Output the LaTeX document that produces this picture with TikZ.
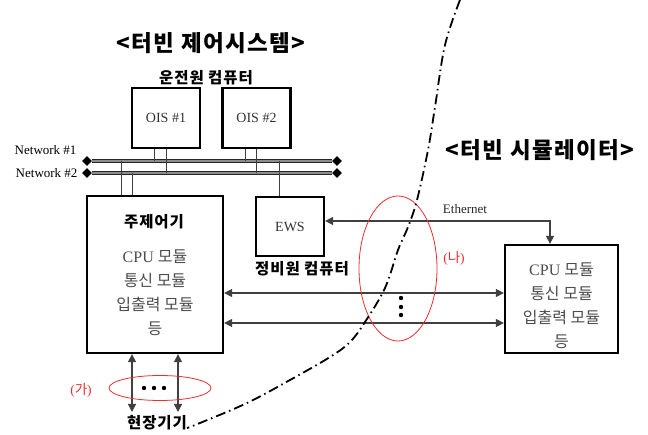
\documentclass[tikz,border=0pt]{standalone}
\usepackage{fontspec}
\setmainfont{Liberation Serif}
\newfontfamily\kr{Noto Sans CJK KR}
\newfontfamily\krheavy[LetterSpace=6]{Noto Sans CJK KR Black}
\usetikzlibrary{arrows.meta,shapes.geometric}
\newcommand{\ko}[1]{{\kr #1}}
\definecolor{tagred}{RGB}{235,45,45}
\tikzset{
  unitbox/.style={draw, line width=2.3pt, inner sep=0pt, text=black!80,
    font=\fontsize{14}{16}\selectfont},
  heading/.style={font=\krheavy\fontsize{22.5}{26}\selectfont},
  caption/.style={font=\krheavy\fontsize{15.5}{18}\selectfont},
  bodytext/.style={align=center, text=black!70, font=\fontsize{16}{24}\selectfont},
  netend/.style={diamond, fill, inner sep=0pt, minimum size=10pt},
  netline/.style={draw=black!85, double=black!45, double distance=2.4pt, line width=0.8pt},
  drop/.style={black!75, line width=0.9pt},
  link/.style={black!75, line width=1.2pt,
    {Triangle[length=8pt,width=8pt]}-{Triangle[length=8pt,width=8pt]}},
  ring/.style={draw=tagred, line width=0.8pt, ellipse, inner sep=0pt},
  tag/.style={text=tagred, font=\fontsize{13.5}{15}\selectfont},
  divide/.style={line width=1.8pt, dash pattern=on 10pt off 4pt on 1.5pt off 4pt}
}
\begin{document}
\begin{tikzpicture}[x=1pt,y=-1pt]
\useasboundingbox (0,0) rectangle (648,435);

% titles
\node[heading] (ctrltitle) at (211,43) {<터빈 제어시스템>};
\node[heading] (simtitle) at (540,150) {<터빈 시뮬레이터>};

% operator stations
\node[caption] (opname) at (206,78) {운전원 컴퓨터};
\node[unitbox, minimum width=68pt, minimum height=60pt] (ois1) at (166,118) {OIS \#1};
\node[unitbox, minimum width=68pt, minimum height=60pt] (ois2) at (256.5,118) {OIS \#2};

% networks
\node[netend] (n1w) at (87,161) {};
\node[netend] (n1e) at (337,161) {};
\node[netend] (n2w) at (87,173) {};
\node[netend] (n2e) at (337,173) {};
\draw[netline] (n1w) -- (n1e);
\draw[netline] (n2w) -- (n2e);
\node[anchor=east, font=\fontsize{13}{15}\selectfont] (net1name) at (80,150) {Network \#1};
\node[anchor=east, font=\fontsize{13}{15}\selectfont] (net2name) at (81,173) {Network \#2};

% main controller and EWS
\node[unitbox, minimum width=136pt, minimum height=157pt] (main) at (155,274.5) {};
\node[caption] (mainname) at (154,222) {주제어기};
\node[bodytext] (mainbody) at (155,292.5) {CPU \ko{모듈}\\\ko{통신 모듈}\\\ko{입출력 모듈}\\\ko{등}};
\node[unitbox, minimum width=68pt, minimum height=59pt] (ews) at (290,226.5) {EWS};
\node[caption] (ewsname) at (302,269) {정비원 컴퓨터};

% drops to the networks
\draw[drop] ([xshift=-12pt]ois1.south) -- ([xshift=-12pt]ois1.south |- n1w);
\draw[drop] (ois1.south) -- (ois1.south |- n2w);
\draw[drop] ([xshift=-11.5pt]ois2.south) -- ([xshift=-11.5pt]ois2.south |- n1w);
\draw[drop] (ois2.south) -- (ois2.south |- n2w);
\draw[drop] ([xshift=-34pt]main.north) -- ([xshift=-34pt]main.north |- n1w);
\draw[drop] ([xshift=-23pt]main.north) -- ([xshift=-23pt]main.north |- n2w);
\draw[drop] ([xshift=-11pt]ews.north) -- ([xshift=-11pt]ews.north |- n1w);

% simulator
\node[unitbox, minimum width=113pt, minimum height=108pt] (sim) at (561.5,299) {};
\node[bodytext] (simbody) at (561.5,306) {CPU \ko{모듈}\\\ko{통신 모듈}\\\ko{입출력 모듈}\\\ko{등}};

% links
\coordinate (eth) at (550,221);
\draw[link] (ews.east |- eth) -- (eth) -- (eth |- sim.north);
\node[font=\fontsize{13}{15}\selectfont, text=black!85] (ethname) at (465,209) {Ethernet};
\coordinate (bus1) at (0,293);
\coordinate (bus2) at (0,323);
\draw[link] (main.east |- bus1) -- (sim.west |- bus1);
\draw[link] (main.east |- bus2) -- (sim.west |- bus2);
\foreach \y in {298,307,315} \fill (401,\y) circle (2.2);
\node[ring, minimum width=78pt, minimum height=145pt] (ringB) at (398,268.5) {};
\node[tag] (tagB) at (454,258) {(\ko{나})};

% field devices
\node[caption] (field) at (157,423) {현장기기};
\coordinate (fa) at (132,412);
\coordinate (fb) at (178,412);
\draw[link] (main.south -| fa) -- (fa);
\draw[link] (main.south -| fb) -- (fb);
\foreach \x in {144,154,164} \fill (\x,388) circle (2.2);
\node[ring, minimum width=102pt, minimum height=25pt] (ringA) at (160,388) {};
\node[tag] (tagA) at (81,390) {(\ko{가})};

% boundary between the two systems
\draw[divide] plot[smooth, tension=0.6] coordinates {(460,0) (445,45) (435,107) (428,150)
  (417,200) (408,227) (398,250) (385,288) (365,322) (350,342) (330,357) (290,380)
  (247,403) (200,423) (187,428)};
\end{tikzpicture}
\end{document}
